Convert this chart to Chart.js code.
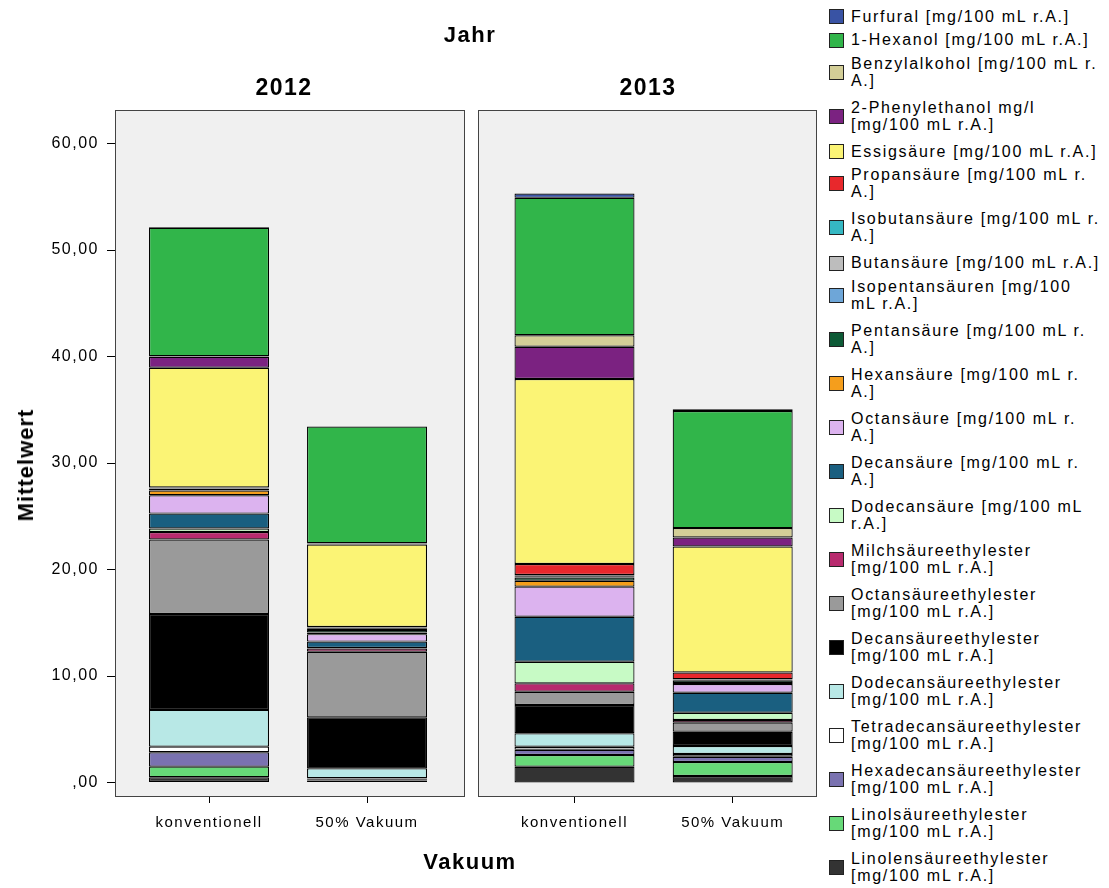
<!DOCTYPE html>
<html>
<head>
<meta charset="utf-8">
<script src="https://cdn.jsdelivr.net/npm/chart.js@4.4.1/dist/chart.umd.min.js"></script>
<style>
  html, body { margin: 0; padding: 0; background: #fff; }
  body { width: 1109px; height: 888px; position: relative; overflow: hidden;
         font-family: "Liberation Sans", Arial, sans-serif; color: #000; }
  canvas { position: absolute; top: 0; }
  .title { position: absolute; font-weight: bold; font-size: 22px; letter-spacing: 1.5px;
           transform: translate(-50%, -50%); white-space: nowrap; }
  #legend { position: absolute; left: 828px; top: 0; width: 281px; height: 888px;
            font-size: 16px; letter-spacing: 1.7px; }
  .item { position: absolute; left: 0; width: 281px; }
  .swatch { position: absolute; left: 1px; width: 13px; height: 13px; border: 1px solid #222; }
  .text { position: absolute; left: 23px; top: 0; line-height: 17px; white-space: pre; }
</style>
</head>
<body>
<canvas id="chart2012" width="470" height="888" style="left:0"></canvas>
<canvas id="chart2013" width="350" height="888" style="left:470px"></canvas>

<div class="title" style="left:470px; top:35px;">Jahr</div>
<div class="title" style="left:284px; top:87px; font-size:23px;">2012</div>
<div class="title" style="left:648px; top:87px; font-size:23px;">2013</div>
<div class="title" style="left:470px; top:862px;">Vakuum</div>
<div class="title" style="left:26px; top:465px; letter-spacing:1px; transform: translate(-50%, -50%) rotate(-90deg);">Mittelwert</div>
<div id="legend"></div>

<script>
// Categories and panels
const categories = ['konventionell', '50% Vakuum'];
const years = ['2012', '2013'];
const yTicks = [0, 10, 20, 30, 40, 50, 60];

// Mean values per compound, mg/100 mL r.A.
// order: [2012 konventionell, 2012 50% Vakuum, 2013 konventionell, 2013 50% Vakuum]
const linolensaeureethylester   = [0.49, 0.20, 1.48, 0.61];
const linolsaeureethylester     = [1.00, 0.10, 1.10, 1.31];
const hexadecansaeureethylester = [1.35, 0.05, 0.50, 0.50];
const tetradecansaeureethylester= [0.53, 0.05, 0.28, 0.26];
const dodecansaeureethylester   = [3.45, 0.93, 1.26, 0.75];
const decansaeureethylester     = [9.00, 4.79, 2.66, 1.34];
const octansaeureethylester     = [7.00, 6.16, 1.25, 0.85];
const milchsaeureethylester     = [0.71, 0.30, 0.78, 0.25];
const dodecansaeure             = [0.32, 0.05, 2.03, 0.68];
const decansaeure               = [1.40, 0.60, 4.23, 1.88];
const octansaeure               = [1.72, 0.70, 2.82, 0.82];
const hexansaeure               = [0.45, 0.15, 0.56, 0.10];
const pentansaeure              = [0.15, 0.25, 0.30, 0.25];
const isopentansaeuren          = [0.03, 0.10, 0.08, 0.05];
const butansaeure               = [0.03, 0.10, 0.10, 0.04];
const isobutansaeure            = [0.02, 0.02, 0.05, 0.02];
const propansaeure              = [0.05, 0.05, 1.04, 0.62];
const essigsaeure               = [11.25, 7.75, 17.37, 11.83];
const phenylethanol             = [1.03, 0.10, 3.03, 0.85];
const benzylalkohol             = [0.05, 0.02, 1.08, 0.88];
const hexanol                   = [12.05, 10.95, 12.90, 11.00];
const furfural                  = [0.05, 0.02, 0.40, 0.15];

// Stack order, bottom to top (legend lists them top to bottom)
const series = [
  { label: 'Linolensäureethylester\n[mg/100 mL r.A.]',     color: '#333333', values: linolensaeureethylester },
  { label: 'Linolsäureethylester\n[mg/100 mL r.A.]',       color: '#67d978', values: linolsaeureethylester },
  { label: 'Hexadecansäureethylester\n[mg/100 mL r.A.]',   color: '#7a72b0', values: hexadecansaeureethylester },
  { label: 'Tetradecansäureethylester\n[mg/100 mL r.A.]',  color: '#ffffff', values: tetradecansaeureethylester },
  { label: 'Dodecansäureethylester\n[mg/100 mL r.A.]',     color: '#b8e8e6', values: dodecansaeureethylester },
  { label: 'Decansäureethylester\n[mg/100 mL r.A.]',       color: '#000000', values: decansaeureethylester },
  { label: 'Octansäureethylester\n[mg/100 mL r.A.]',       color: '#9a9a9a', values: octansaeureethylester },
  { label: 'Milchsäureethylester\n[mg/100 mL r.A.]',       color: '#b82a6e', values: milchsaeureethylester },
  { label: 'Dodecansäure [mg/100 mL\nr.A.]',               color: '#c7fac5', values: dodecansaeure },
  { label: 'Decansäure [mg/100 mL r.\nA.]',                color: '#1a5f80', values: decansaeure },
  { label: 'Octansäure [mg/100 mL r.\nA.]',                color: '#dcb3ef', values: octansaeure },
  { label: 'Hexansäure [mg/100 mL r.\nA.]',                color: '#f59e1c', values: hexansaeure },
  { label: 'Pentansäure [mg/100 mL r.\nA.]',               color: '#0d5a36', values: pentansaeure },
  { label: 'Isopentansäuren [mg/100\nmL r.A.]',            color: '#6ea6d8', values: isopentansaeuren },
  { label: 'Butansäure [mg/100 mL r.A.]',                  color: '#bdbdbd', values: butansaeure },
  { label: 'Isobutansäure [mg/100 mL r.\nA.]',             color: '#35b8c3', values: isobutansaeure },
  { label: 'Propansäure [mg/100 mL r.\nA.]',               color: '#e8282c', values: propansaeure },
  { label: 'Essigsäure [mg/100 mL r.A.]',                  color: '#fbf475', values: essigsaeure },
  { label: '2-Phenylethanol mg/l\n[mg/100 mL r.A.]',       color: '#7b2281', values: phenylethanol },
  { label: 'Benzylalkohol [mg/100 mL r.\nA.]',             color: '#d3ce97', values: benzylalkohol },
  { label: '1-Hexanol [mg/100 mL r.A.]',                   color: '#31b54a', values: hexanol },
  { label: 'Furfural [mg/100 mL r.A.]',                    color: '#3953a4', values: furfural }
];

const FONT = '"Liberation Sans", Arial, sans-serif';

// Grey panel background + frame; axis text gets a little extra tracking
const panelPlugin = {
  id: 'panel',
  beforeDraw(chart) {
    const { ctx, chartArea: a } = chart;
    ctx.letterSpacing = '1.5px';
    ctx.save();
    ctx.fillStyle = '#f0f0f0';
    ctx.fillRect(a.left, a.top, a.right - a.left, a.bottom - a.top);
    ctx.restore();
  },
  afterDatasetsDraw(chart) {
    const { ctx, chartArea: a } = chart;
    ctx.save();
    ctx.strokeStyle = '#444';
    ctx.lineWidth = 1;
    ctx.strokeRect(Math.round(a.left) + 0.5, Math.round(a.top) + 0.5,
                   Math.round(a.right - a.left) - 1, Math.round(a.bottom - a.top) - 1);
    ctx.restore();
  }
};

function formatValue(v) {
  if (v === 0) return ',00';
  return v.toFixed(2).replace('.', ',');
}

function makePanel(canvasId, offset, showY, pad, xRange) {
  const datasets = series.map(s => ({
    label: s.label.replace('\n', ' '),
    data: categories.map((c, i) => ({ x: i, y: s.values[offset + i] })),
    backgroundColor: s.color,
    borderColor: '#000',
    borderWidth: 1.2,
    borderSkipped: false,
    barThickness: 120,
    inflateAmount: 0
  }));
  return new Chart(document.getElementById(canvasId), {
    type: 'bar',
    data: { datasets },
    options: {
      responsive: false,
      animation: false,
      devicePixelRatio: 1,
      layout: { padding: pad },
      plugins: { legend: { display: false }, tooltip: { enabled: false }, title: { display: false } },
      scales: {
        x: {
          type: 'linear',
          stacked: true,
          offset: false,
          min: xRange[0], max: xRange[1],
          afterBuildTicks: sc => { sc.ticks = categories.map((c, i) => ({ value: i })); },
          afterFit: sc => { sc.height = 91; },
          grid: { offset: false, drawOnChartArea: false, drawTicks: true, tickLength: 6, color: '#000' },
          border: { display: false },
          ticks: {
            color: '#000', padding: 11, maxRotation: 0, autoSkip: false, align: 'center',
            font: { family: FONT, size: 15 },
            callback: v => categories[v]
          }
        },
        y: {
          type: 'linear',
          stacked: true,
          display: showY,
          min: -1.36, max: 63.15,
          afterBuildTicks: sc => { sc.ticks = yTicks.map(v => ({ value: v })); },
          afterFit: sc => { if (showY) sc.width = 115; },
          grid: { drawOnChartArea: false, drawTicks: true, tickLength: 8, color: '#000' },
          border: { display: false },
          ticks: {
            color: '#000', padding: 8,
            font: { family: FONT, size: 16 },
            callback: v => formatValue(v)
          }
        }
      }
    },
    plugins: [panelPlugin]
  });
}

makePanel('chart2012', 0, true,  { top: 110, right: 5, left: 0, bottom: 0 }, [-0.595, 1.620]);
makePanel('chart2013', 2, false, { top: 110, right: 3, left: 8, bottom: 0 }, [-0.610, 1.533]);

// Legend, top to bottom
const legend = document.getElementById('legend');
let y = 7.5;
series.slice().reverse().forEach(s => {
  const lines = s.label.split('\n').length;
  const item = document.createElement('div');
  item.className = 'item';
  item.style.top = y + 'px';
  const sw = document.createElement('div');
  sw.className = 'swatch';
  sw.style.background = s.color;
  sw.style.top = (lines * 17 / 2 - 7) + 'px';
  const tx = document.createElement('div');
  tx.className = 'text';
  tx.textContent = s.label;
  item.appendChild(sw);
  item.appendChild(tx);
  legend.appendChild(item);
  y += lines === 1 ? 23.5 : 44;
});
</script>
</body>
</html>
